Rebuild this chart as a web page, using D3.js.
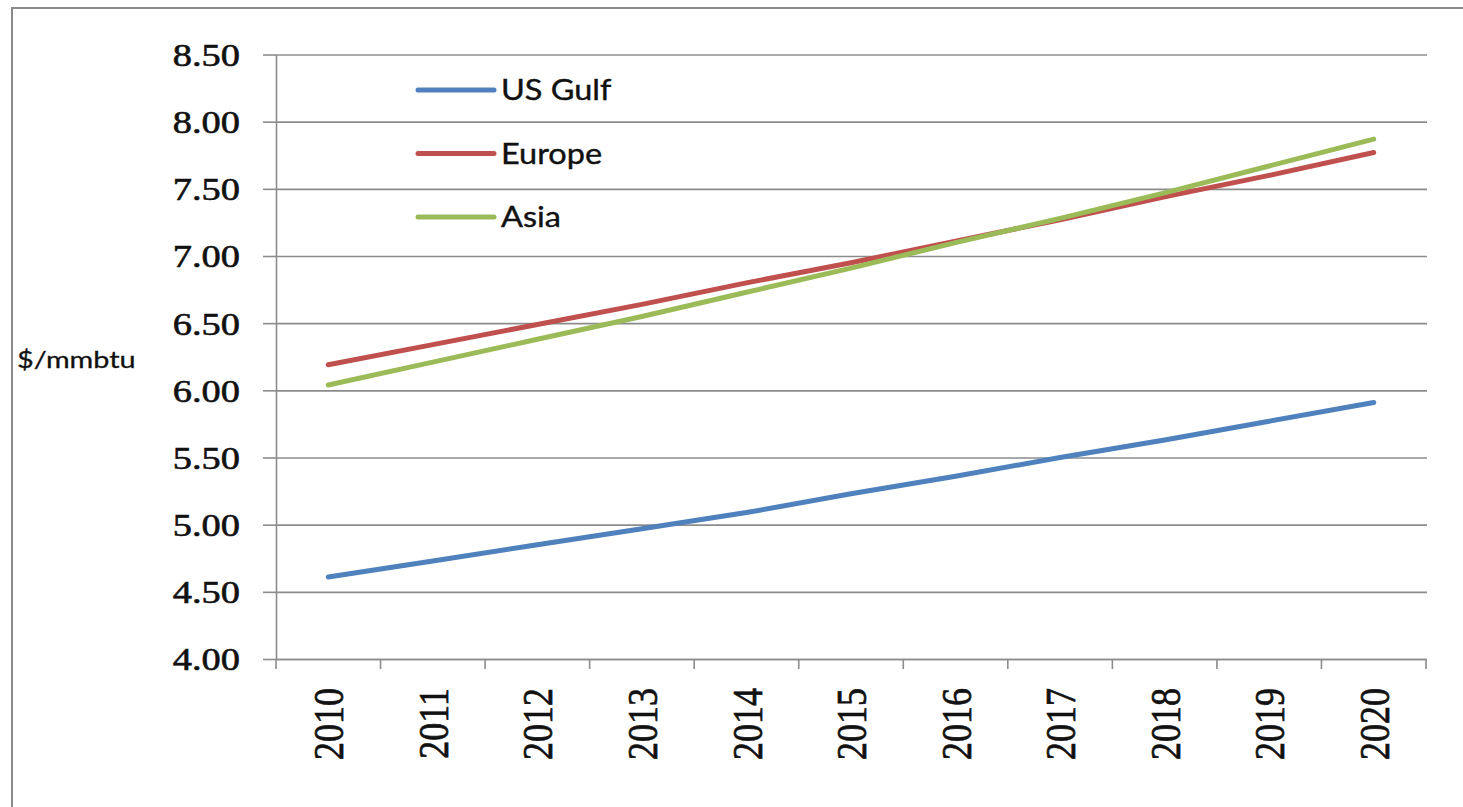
<!DOCTYPE html>
<html>
<head>
<meta charset="utf-8">
<script src="https://cdn.jsdelivr.net/npm/d3@7"></script>
<style>
  html, body { margin: 0; padding: 0; background: #fff; }
  svg { display: block; }
</style>
</head>
<body>
<svg id="chart" width="1463" height="807"></svg>
<script>
// Gas price outlook, $/mmbtu by region
const years = ['2010','2011','2012','2013','2014','2015','2016','2017','2018','2019','2020'];
const usGulf = [4.61, 4.73, 4.85, 4.97, 5.09, 5.23, 5.36, 5.50, 5.63, 5.77, 5.91];
const europe = [6.19, 6.34, 6.49, 6.64, 6.80, 6.95, 7.11, 7.27, 7.44, 7.60, 7.77];
const asia   = [6.04, 6.21, 6.38, 6.55, 6.73, 6.91, 7.10, 7.28, 7.47, 7.67, 7.87];
const yTicks = [4.0, 4.5, 5.0, 5.5, 6.0, 6.5, 7.0, 7.5, 8.0, 8.5];
const seriesNames = ['US Gulf', 'Europe', 'Asia'];
const seriesColors = ['#4F81BD', '#C0504D', '#9BBB59'];
const series = [usGulf, europe, asia];

const svg = d3.select('#chart');
const plot = { left: 276, right: 1426, top: 54.5, bottom: 659 };
const stretch = 1.2;   // text is drawn slightly wide
const gridColor = '#8c8c8c';
const ink = '#111';

// outer frame (left and top edges)
svg.append('path')
  .attr('d', 'M12,807 L12,8 L1463,8')
  .attr('fill', 'none')
  .attr('stroke', '#8a8a8a')
  .attr('stroke-width', 2);

const x = d3.scaleBand().domain(years).range([plot.left, plot.right]);
const y = d3.scaleLinear().domain([4, 8.5]).range([plot.bottom, plot.top]);

// horizontal gridlines
const grid = svg.append('g')
  .attr('transform', `translate(${plot.left},0)`)
  .call(d3.axisRight(y).tickValues(yTicks).tickSize(plot.right - plot.left + 1).tickFormat(''));
grid.select('.domain').remove();
grid.selectAll('line').attr('stroke', gridColor).attr('stroke-width', 1.6);

// y axis with labels
const yAxis = svg.append('g')
  .attr('transform', `translate(${plot.left},0)`)
  .call(d3.axisLeft(y).tickValues(yTicks).tickSize(13).tickSizeOuter(0).tickFormat(d3.format('.2f')));
yAxis.select('.domain').attr('stroke', gridColor).attr('stroke-width', 1.6);
yAxis.selectAll('line').attr('stroke', gridColor).attr('stroke-width', 1.6);
yAxis.selectAll('text')
  .attr('x', 0)
  .attr('dy', '0.34em')
  .attr('transform', `translate(-36,0) scale(${stretch},1)`)
  .attr('text-anchor', 'end')
  .attr('fill', ink)
  .attr('stroke', ink)
  .attr('stroke-width', 0.6)
  .style('font-family', '"Liberation Serif", "Times New Roman", serif')
  .style('font-size', '32px');

// x axis: baseline, boundary ticks, rotated year labels
const xAxis = svg.append('g')
  .attr('transform', `translate(0,${plot.bottom})`)
  .call(d3.axisBottom(x).tickSize(0));
xAxis.select('.domain').attr('stroke', gridColor).attr('stroke-width', 1.6);
xAxis.selectAll('.tick text')
  .attr('x', 0).attr('y', 0).attr('dy', '0.35em')
  .attr('text-anchor', 'end')
  .attr('transform', `translate(0,29) scale(${stretch},1) rotate(-90)`)
  .attr('fill', ink)
  .attr('stroke', ink)
  .attr('stroke-width', 0.6)
  .style('font-family', '"Liberation Serif", "Times New Roman", serif')
  .style('font-size', '36px');

const bounds = years.map(d => x(d)).concat([x.range()[1]]);
xAxis.selectAll('line.bound')
  .data(bounds)
  .enter().append('line')
  .attr('class', 'bound')
  .attr('x1', d => d).attr('x2', d => d)
  .attr('y1', 0).attr('y2', 10)
  .attr('stroke', gridColor).attr('stroke-width', 1.6);

// y axis title
svg.append('text')
  .attr('x', 0).attr('y', 0)
  .attr('transform', `translate(17,360) scale(${stretch},1)`)
  .attr('dy', '0.35em')
  .attr('fill', ink)
  .attr('stroke', ink)
  .attr('stroke-width', 0.3)
  .style('font-family', 'Lato, "Open Sans", sans-serif')
  .style('font-size', '24px')
  .text('$/mmbtu');

// series lines
const line = d3.line()
  .x((d, i) => x(years[i]) + x.bandwidth() / 2)
  .y(d => y(d));

svg.append('g').selectAll('path')
  .data(series)
  .enter().append('path')
  .attr('d', line)
  .attr('fill', 'none')
  .attr('stroke', (d, i) => seriesColors[i])
  .attr('stroke-width', 5)
  .attr('stroke-linecap', 'round')
  .attr('stroke-linejoin', 'round');

// legend
const legend = svg.append('g');
const legendY = [90, 153.5, 217];
seriesNames.forEach((name, i) => {
  legend.append('line')
    .attr('x1', 418).attr('x2', 494)
    .attr('y1', legendY[i]).attr('y2', legendY[i])
    .attr('stroke', seriesColors[i])
    .attr('stroke-width', 5)
    .attr('stroke-linecap', 'round');
  legend.append('text')
    .attr('x', 0).attr('y', 0)
    .attr('transform', `translate(501,${legendY[i]}) scale(1.12,1)`)
    .attr('dy', '0.36em')
    .attr('fill', ink)
    .attr('stroke', ink)
    .attr('stroke-width', 0.4)
    .style('font-family', 'Lato, "Open Sans", sans-serif')
    .style('font-size', '29px')
    .text(name);
});
</script>
</body>
</html>
